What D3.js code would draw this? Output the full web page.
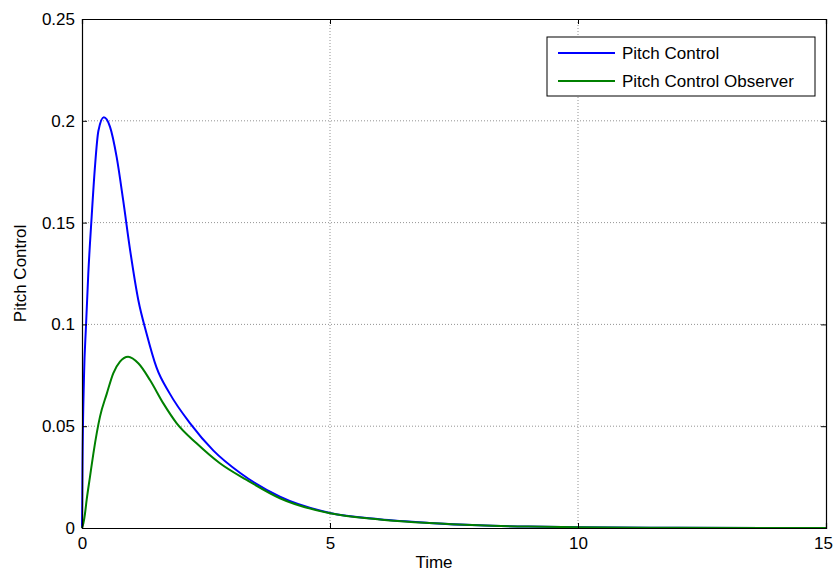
<!DOCTYPE html>
<html>
<head>
<meta charset="utf-8">
<script src="https://cdn.jsdelivr.net/npm/d3@7"></script>
<style>
  body { margin: 0; background: #fff; }
  svg { display: block; font-family: "Liberation Sans", Arial, sans-serif; }
</style>
</head>
<body>
<svg id="chart" width="834" height="573"></svg>
<script>
// series (time, value)
var pitchTime = [0, 0.005, 0.01, 0.04, 0.08, 0.127, 0.195, 0.26, 0.33, 0.44, 0.565, 0.70, 0.83, 0.97, 1.135, 1.30, 1.50, 1.77, 2.18, 2.65, 3.19, 3.99, 5, 6, 7, 8, 9, 10, 12, 15];
var pitchValue = [0, 0.012, 0.030, 0.074, 0.099, 0.125, 0.153, 0.177, 0.195, 0.2017, 0.197, 0.182, 0.161, 0.1365, 0.112, 0.0957, 0.079, 0.066, 0.0514, 0.038, 0.027, 0.0154, 0.0074, 0.0043, 0.0025, 0.0013, 0.0007, 0.0004, 0.0001, 0];
var observerTime = [0, 0.03, 0.06, 0.094, 0.16, 0.23, 0.363, 0.50, 0.63, 0.766, 0.93, 1.135, 1.37, 1.64, 1.91, 2.31, 2.78, 3.32, 3.99, 5, 6, 7, 8, 9, 10, 12, 15];
var observerValue = [0, 0.0025, 0.007, 0.0138, 0.025, 0.0367, 0.0547, 0.066, 0.076, 0.0817, 0.0841, 0.0809, 0.0727, 0.0612, 0.0514, 0.0416, 0.0318, 0.0236, 0.0146, 0.0072, 0.0042, 0.0024, 0.0013, 0.0007, 0.0004, 0.0001, 0];

var xTicks = [0, 5, 10, 15];
var yTicks = [0, 0.05, 0.1, 0.15, 0.2, 0.25];
var seriesNames = ["Pitch Control", "Pitch Control Observer"];
var seriesColors = ["#0000ff", "#008000"];

var margin = {top: 19, right: 8, bottom: 45, left: 82};
var width = 834 - margin.left - margin.right;
var height = 573 - margin.top - margin.bottom;
var fs = 17;

var svg = d3.select('#chart');
var g = svg.append('g')
  .attr('transform', `translate(${margin.left},${margin.top})`);

var x = d3.scaleLinear().domain([0, 15]).range([0, width]);
var y = d3.scaleLinear().domain([0, 0.25]).range([height, 0]);

// grid
g.append('g').selectAll('line')
  .data(xTicks.slice(1, -1))
  .enter().append('line')
  .attr('x1', d => x(d)).attr('x2', d => x(d))
  .attr('y1', 0).attr('y2', height)
  .style('stroke', '#777').style('stroke-width', 0.8)
  .style('stroke-dasharray', '1,2');
g.append('g').selectAll('line')
  .data(yTicks.slice(1, -1))
  .enter().append('line')
  .attr('x1', 0).attr('x2', width)
  .attr('y1', d => y(d)).attr('y2', d => y(d))
  .style('stroke', '#777').style('stroke-width', 0.8)
  .style('stroke-dasharray', '1,2');

// lines
var line = d3.line()
  .x(d => x(d[0]))
  .y(d => y(d[1]))
  .curve(d3.curveMonotoneX);

var series = [
  d3.zip(pitchTime, pitchValue),
  d3.zip(observerTime, observerValue)
];
g.selectAll('.series')
  .data(series)
  .enter().append('path')
  .attr('class', 'series')
  .attr('d', line)
  .style('fill', 'none')
  .style('stroke', (d, i) => seriesColors[i])
  .style('stroke-width', 2);

// axes (ticks inside, box on all sides)
var xAxis = d3.axisBottom(x).tickValues(xTicks).tickSize(-5).tickPadding(9).tickFormat(d3.format('d'));
var yAxis = d3.axisLeft(y).tickValues(yTicks).tickSize(-5).tickPadding(7).tickFormat(d => d === 0 ? '0' : String(d));

g.append('g').attr('transform', `translate(0,${height})`).call(xAxis)
  .call(a => a.selectAll('text').style('font-size', fs + 'px').style('fill', '#000'))
  .call(a => a.selectAll('.tick:last-of-type text').attr('dx', -3));
g.append('g').call(yAxis)
  .call(a => a.selectAll('text').style('font-size', fs + 'px').style('fill', '#000'));
g.append('g').call(d3.axisTop(x).tickValues(xTicks).tickSize(-5).tickFormat(''));
g.append('g').attr('transform', `translate(${width},0)`)
  .call(d3.axisRight(y).tickValues(yTicks).tickSize(-5).tickFormat(''));

g.selectAll('.domain').style('stroke', '#000').style('stroke-width', 1.2);
g.selectAll('.tick line').style('stroke', '#000');

// axis titles
g.append('text')
  .attr('x', width / 2 - 20).attr('y', height + 40)
  .attr('text-anchor', 'middle')
  .style('font-size', fs + 'px')
  .text('Time');
g.append('text')
  .attr('transform', `translate(${-56},${height / 2}) rotate(-90)`)
  .attr('text-anchor', 'middle')
  .style('font-size', fs + 'px')
  .text('Pitch Control');

// legend
var legW = 268, legH = 59;
var leg = g.append('g').attr('transform', `translate(${width - legW - 11},18)`);
leg.append('rect')
  .attr('width', legW).attr('height', legH)
  .style('fill', '#fff').style('stroke', '#000').style('stroke-width', 1);
var items = leg.selectAll('.item').data(seriesNames)
  .enter().append('g')
  .attr('transform', (d, i) => `translate(0,${16 + i * 28})`);
items.append('line')
  .attr('x1', 11).attr('x2', 68)
  .style('stroke', (d, i) => seriesColors[i]).style('stroke-width', 2);
items.append('text')
  .attr('x', 75).attr('dy', '0.35em')
  .style('font-size', fs + 'px')
  .text(d => d);
</script>
</body>
</html>
